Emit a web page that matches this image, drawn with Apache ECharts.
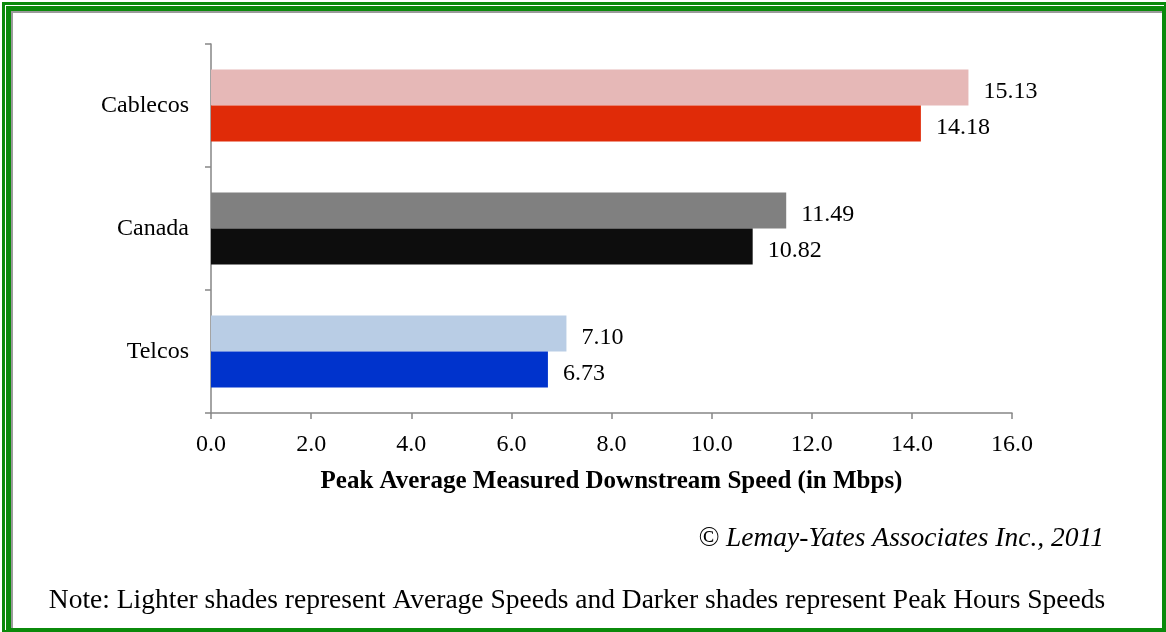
<!DOCTYPE html>
<html>
<head>
<meta charset="utf-8">
<script src="https://cdn.jsdelivr.net/npm/echarts@6/dist/echarts.min.js"></script>
<style>
  html, body { margin: 0; padding: 0; background: #ffffff; }
  #chart { width: 1166px; height: 632px; }
</style>
</head>
<body>
<div id="chart"></div>
<script>
// Groups, bottom to top along the category axis
const categories = ['Telcos', 'Canada', 'Cablecos'];
// Average speeds (lighter shades), Mbps
const averageSpeeds = [7.10, 11.49, 15.13];
// Peak-hours speeds (darker shades), Mbps
const peakSpeeds = [6.73, 10.82, 14.18];
const averageColors = ['#b9cde5', '#808080', '#e6b8b7'];
const peakColors = ['#0033cc', '#0d0d0d', '#e02b08'];
const xTicks = { min: 0, max: 16, interval: 2 };

const FONT = '"Liberation Serif", "Times New Roman", serif';

const chart = echarts.init(document.getElementById('chart'), null, { renderer: 'canvas' });

function labelCfg() {
  return {
    show: true,
    position: 'right',
    distance: 15,
    offset: [0, 4],
    color: '#000',
    fontFamily: FONT,
    fontSize: 24,
    formatter: p => p.value.toFixed(2)
  };
}

chart.setOption({
  animation: false,
  backgroundColor: '#ffffff',
  grid: { left: 211, right: 154, top: 44, bottom: 219, containLabel: false },
  xAxis: {
    type: 'value',
    min: xTicks.min,
    max: xTicks.max,
    interval: xTicks.interval,
    splitLine: { show: false },
    axisLine: { show: true, lineStyle: { color: '#868686', width: 1.5 } },
    axisTick: { show: true, length: 6, lineStyle: { color: '#868686', width: 1.5 } },
    axisLabel: {
      color: '#000', fontFamily: FONT, fontSize: 24, margin: 20,
      formatter: v => v.toFixed(1)
    },
    name: 'Peak Average Measured Downstream Speed (in Mbps)',
    nameLocation: 'middle',
    nameGap: 56,
    nameTextStyle: { color: '#000', fontFamily: FONT, fontSize: 25, fontWeight: 'bold' }
  },
  yAxis: {
    type: 'category',
    data: categories,
    axisLine: { show: true, lineStyle: { color: '#868686', width: 1.5 } },
    axisTick: { show: true, length: 6, lineStyle: { color: '#868686', width: 1.5 } },
    axisLabel: { color: '#000', fontFamily: FONT, fontSize: 24, margin: 22 },
    splitLine: { show: false }
  },
  series: [
    {
      name: 'Average',
      type: 'bar',
      barGap: '0%',
      barCategoryGap: '41.5%',
      data: averageSpeeds.map((v, i) => ({ value: v, itemStyle: { color: averageColors[i] } })),
      label: labelCfg()
    },
    {
      name: 'Peak Hours',
      type: 'bar',
      barGap: '0%',
      barCategoryGap: '41.5%',
      data: peakSpeeds.map((v, i) => ({ value: v, itemStyle: { color: peakColors[i] } })),
      label: labelCfg()
    }
  ],
  graphic: [
    // framed border: outer green, thin white, inner green, grey bevel
    { type: 'rect', silent: true, z: -10, shape: { x: 2, y: 2, width: 1164, height: 630 }, style: { fill: '#0b8a0b' } },
    { type: 'rect', silent: true, z: -9, shape: { x: 5, y: 5, width: 1159, height: 625 }, style: { fill: '#ffffff' } },
    { type: 'rect', silent: true, z: -8, shape: { x: 6, y: 6, width: 1158, height: 624 }, style: { fill: '#0b8a0b' } },
    { type: 'rect', silent: true, z: -7, shape: { x: 11, y: 11, width: 1151, height: 617 }, style: { fill: '#9a9a9a' } },
    { type: 'rect', silent: true, z: -6, shape: { x: 13, y: 13, width: 1149, height: 615 }, style: { fill: '#ffffff' } },
    {
      type: 'text', silent: true, z: 10,
      style: {
        x: 1104, y: 539, text: '© Lemay-Yates Associates Inc., 2011',
        fill: '#000', font: 'italic 27.5px ' + FONT, textAlign: 'right', textVerticalAlign: 'middle'
      }
    },
    {
      type: 'text', silent: true, z: 10,
      style: {
        x: 577, y: 601, text: 'Note: Lighter shades represent Average Speeds and Darker shades represent Peak Hours Speeds',
        fill: '#000', font: '27.5px ' + FONT, textAlign: 'center', textVerticalAlign: 'middle'
      }
    }
  ]
});
</script>
</body>
</html>
